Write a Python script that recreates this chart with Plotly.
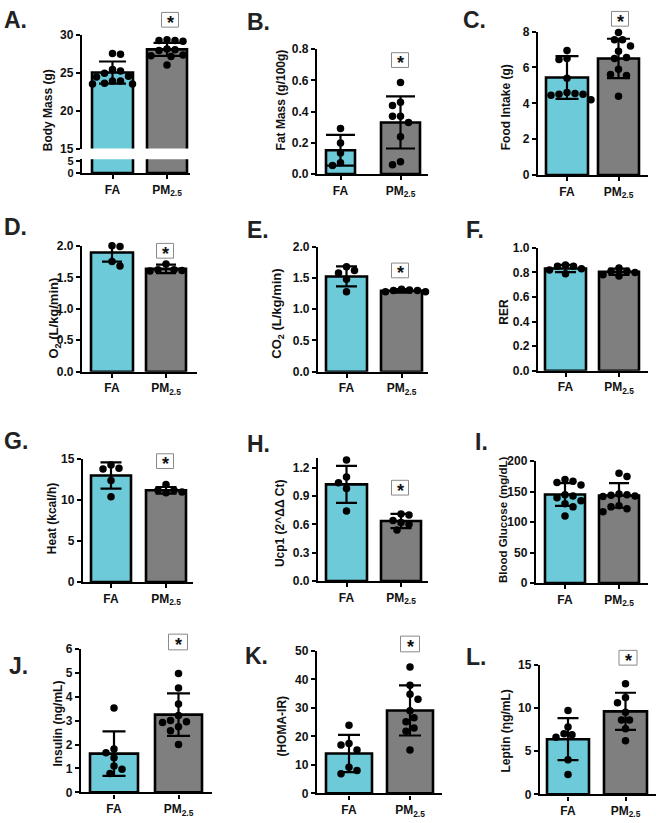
import numpy as np
import plotly.graph_objects as go

W, H = 656, 823
FONT = "Liberation Sans, Arial, Helvetica, sans-serif"

# ---------------- data ----------------
groups = ["FA", "PM<sub>2.5</sub>"]

body_mass_mean = [25.0, 28.05]
body_mass_sd = [1.45, 0.85]
body_mass_fa = [27.5, 27.4, 25.4, 25.2, 24.9, 24.5, 24.4, 23.9, 23.5, 23.5, 23.6, 23.9]
body_mass_pm = [29.2, 29.3, 29.2, 29.1, 28.1, 28.0, 27.9, 27.2, 27.1, 27.3, 26.0]

fat_mass_mean = [0.153, 0.331]
fat_mass_sd = [0.099, 0.167]
fat_mass_fa = [0.293, 0.199, 0.136, 0.073, 0.055]
fat_mass_pm = [0.587, 0.46, 0.44, 0.37, 0.37, 0.33, 0.24, 0.08, 0.06]

food_mean = [5.44, 6.50]
food_sd = [1.19, 1.10]
food_fa = [6.94, 6.5, 6.45, 5.4, 4.6, 4.5, 4.45, 4.5, 4.55, 4.2]
food_pm = [7.95, 7.55, 7.55, 7.2, 6.9, 6.55, 6.5, 5.9, 5.6, 5.55, 4.4]

o2_mean = [1.895, 1.634]
o2_sd = [0.145, 0.068]
o2_fa = [2.0, 1.99, 1.75, 1.68]
o2_pm = [1.71, 1.62, 1.61, 1.60, 1.62]

co2_mean = [1.526, 1.295]
co2_sd = [0.16, 0.03]
co2_fa = [1.68, 1.62, 1.58, 1.48, 1.28]
co2_pm = [1.32, 1.31, 1.30, 1.28, 1.28, 1.30]

rer_mean = [0.832, 0.805]
rer_sd = [0.03, 0.025]
rer_fa = [0.86, 0.85, 0.85, 0.83, 0.82, 0.79]
rer_pm = [0.835, 0.81, 0.81, 0.80, 0.78, 0.77]

heat_mean = [13.0, 11.2]
heat_sd = [1.6, 0.4]
heat_fa = [14.3, 13.8, 13.9, 12.4, 10.4]
heat_pm = [11.9, 11.2, 11.2, 10.9, 11.0]

ucp1_mean = [1.023, 0.635]
ucp1_sd = [0.195, 0.075]
ucp1_fa = [1.28, 1.10, 1.04, 0.98, 0.74]
ucp1_pm = [0.71, 0.70, 0.64, 0.62, 0.60, 0.54]

glucose_mean = [145.3, 143.7]
glucose_sd = [18.7, 20.2]
glucose_fa = [170, 167, 165, 161, 145, 143, 140, 135, 130, 125, 110]
glucose_pm = [180, 175, 146, 145, 144, 143, 142, 127, 125, 122, 117]

insulin_mean = [1.62, 3.25]
insulin_sd = [0.93, 0.89]
insulin_fa = [3.53, 1.81, 1.66, 1.45, 1.10, 0.97, 0.79]
insulin_pm = [4.97, 4.36, 3.70, 3.22, 3.01, 2.95, 2.92, 2.75, 2.58, 2.0]

homa_mean = [14.0, 29.1]
homa_sd = [6.55, 8.8]
homa_fa = [23.9, 17.5, 17.0, 15.2, 9.2, 8.0, 6.9]
homa_pm = [44.3, 37.9, 34.8, 33.0, 29.0, 26.5, 25.1, 22.9, 21.8, 15.2]

leptin_mean = [6.38, 9.6]
leptin_sd = [2.43, 2.15]
leptin_fa = [9.7, 7.8, 7.0, 6.9, 6.6, 4.0, 2.3]
leptin_pm = [12.8, 11.2, 10.6, 9.5, 8.6, 8.6, 7.6, 6.2]

panel_letters = ["A.", "B.", "C.", "D.", "E.", "F.", "G.", "H.", "I.", "J.", "K.", "L."]
y_titles = ["Body Mass (g)", "Fat Mass (g/100g)", "Food Intake (g)",
            "O<sub>2</sub> (L/kg/min)", "CO<sub>2</sub> (L/kg/min)", "RER",
            "Heat (kcal/h)", "Ucp1 (2^ΔΔ Ct)", "Blood Glucose (mg/dL)",
            "Insulin (ng/mL)", "(HOMA-IR)", "Leptin (ηg/mL)"]
significant = [True, True, True, True, True, False, True, True, False, True, True, True]

# ---------------- styling / geometry (pixels) ----------------
FA_COLOR = "#6DCAD8"
PM_COLOR = "#7F7F7F"

panels = [
    dict(mean=body_mass_mean, sd=body_mass_sd, pts=[body_mass_fa, body_mass_pm],
         rng=[15, 30], dtick=5, fmt="{:.0f}", broken=dict(ytop=155, ybot=169, top=5.83, ticks=[0, 5]),
         geo=dict(x0=82, x1=190, ytop=28, ybot=144, cfa=112.5, cpm=167, wfa=41, wpm=40, cap=13.5),
         letter=(2, 13), title=(48, 105, 12), star=(170, 13, 17, 15)),
    dict(mean=fat_mass_mean, sd=fat_mass_sd, pts=[fat_mass_fa, fat_mass_pm],
         rng=[0, 0.8], dtick=0.2, fmt="{:.1f}",
         geo=dict(x0=317, x1=428, ytop=43, ybot=170, cfa=340.5, cpm=400.5, wfa=29, wpm=39, cap=14.5),
         letter=(245, 15), title=(281, 95, 12), star=(400, 54, 17, 15)),
    dict(mean=food_mean, sd=food_sd, pts=[food_fa, food_pm],
         rng=[0, 8], dtick=2, fmt="{:.0f}",
         geo=dict(x0=538, x1=648, ytop=25, ybot=171, cfa=567, cpm=618.5, wfa=42, wpm=41, cap=11.5),
         letter=(461, 13), title=(506, 102, 12), star=(620, 12, 17, 15)),
    dict(mean=o2_mean, sd=o2_sd, pts=[o2_fa, o2_pm],
         rng=[0, 2.0], dtick=0.5, fmt="{:.1f}",
         geo=dict(x0=82, x1=197, ytop=243, ybot=371, cfa=112, cpm=166, wfa=42, wpm=40, cap=10),
         letter=(2, 224), title=(55, 317, 13), star=(165, 248, 17, 15)),
    dict(mean=co2_mean, sd=co2_sd, pts=[co2_fa, co2_pm],
         rng=[0, 2.0], dtick=0.5, fmt="{:.1f}",
         geo=dict(x0=318, x1=428, ytop=244, ybot=371, cfa=346.5, cpm=401.5, wfa=41, wpm=41, cap=10.5),
         letter=(245, 227), title=(278, 312, 13), star=(400, 268, 17, 15)),
    dict(mean=rer_mean, sd=rer_sd, pts=[rer_fa, rer_pm],
         rng=[0, 1.0], dtick=0.2, fmt="{:.1f}",
         geo=dict(x0=538, x1=648, ytop=245, ybot=370, cfa=565.5, cpm=619, wfa=41, wpm=40, cap=10.5),
         letter=(464, 227), title=(504, 310, 12), star=None),
    dict(mean=heat_mean, sd=heat_sd, pts=[heat_fa, heat_pm],
         rng=[0, 15], dtick=5, fmt="{:.0f}",
         geo=dict(x0=83, x1=193, ytop=460, ybot=585, cfa=111, cpm=166, wfa=40, wpm=40, cap=10.5),
         letter=(2, 442), title=(52, 521, 12), star=(165, 462, 17, 15)),
    dict(mean=ucp1_mean, sd=ucp1_sd, pts=[ucp1_fa, ucp1_pm],
         rng=[0, 1.3], dtick=0.3, fmt="{:.1f}",
         geo=dict(x0=318, x1=428, ytop=459, ybot=584, cfa=346.5, cpm=401, wfa=41, wpm=40, cap=10.5),
         letter=(245, 445), title=(280, 525, 12), star=(400, 489, 17, 15)),
    dict(mean=glucose_mean, sd=glucose_sd, pts=[glucose_fa, glucose_pm],
         rng=[0, 200], dtick=50, fmt="{:.0f}",
         geo=dict(x0=536, x1=648, ytop=462, ybot=586, cfa=565, cpm=619, wfa=40, wpm=40, cap=10),
         letter=(473, 443), title=(503, 522, 11.5), star=None),
    dict(mean=insulin_mean, sd=insulin_sd, pts=[insulin_fa, insulin_pm],
         rng=[0, 6], dtick=1, fmt="{:.0f}",
         geo=dict(x0=81, x1=212, ytop=653, ybot=799, cfa=114, cpm=178.5, wfa=48, wpm=47, cap=11.5),
         letter=(7, 670), title=(58, 729, 12), star=(178, 646, 19, 16)),
    dict(mean=homa_mean, sd=homa_sd, pts=[homa_fa, homa_pm],
         rng=[0, 50], dtick=10, fmt="{:.0f}",
         geo=dict(x0=317, x1=442, ytop=655, ybot=800, cfa=349, cpm=410, wfa=46, wpm=46, cap=11),
         letter=(243, 660), title=(282, 732, 12), star=(410, 648, 19, 16)),
    dict(mean=leptin_mean, sd=leptin_sd, pts=[leptin_fa, leptin_pm],
         rng=[0, 15], dtick=5, fmt="{:.0f}",
         geo=dict(x0=540, x1=656, ytop=669, ybot=801, cfa=568, cpm=625.5, wfa=42, wpm=43, cap=10.5),
         letter=(464, 661), title=(506, 737, 12), star=(628, 662, 18, 15)),
]


def swarm(vals, ppu_y, diam=8.0):
    """Deterministic beeswarm offsets (in px) so dots do not overlap."""
    v = np.asarray(vals, float)
    order = np.argsort(-v, kind="stable")
    placed = []
    offs = np.zeros(len(v))
    step = diam * 0.5
    for n, i in enumerate(order):
        ypx = v[i] * ppu_y
        chosen = 0.0
        for k in range(0, 60):
            if k == 0:
                cands = [0.0]
            else:
                cands = [-k * step, k * step] if n % 2 == 0 else [k * step, -k * step]
            hit = None
            for c in cands:
                if all((c - px) ** 2 + (ypx - py) ** 2 >= diam ** 2 for px, py in placed):
                    hit = c
                    break
            if hit is not None:
                chosen = hit
                break
        placed.append((chosen, ypx))
        offs[i] = chosen
    return offs


def tfont(size):
    return dict(family=FONT, size=size, color="#111")


def bold(s):
    return "<b>" + s + "</b>"


axis_common = dict(showline=True, linecolor="black", linewidth=2.4, ticks="outside",
                   tickcolor="black", tickwidth=2.2, showgrid=False, zeroline=False,
                   fixedrange=True, tickfont=tfont(12))

fig = go.Figure()
layout = dict(width=W, height=H, margin=dict(l=0, r=0, t=0, b=0),
              paper_bgcolor="white", plot_bgcolor="rgba(0,0,0,0)", showlegend=False,
              font=dict(family=FONT, color="#111"), hovermode=False)
shapes, annotations = [], []

for i, p in enumerate(panels):
    g = p["geo"]
    n = "" if i == 0 else str(i + 1)
    xa, ya = "x" + n, "y" + n
    unit = g["cpm"] - g["cfa"]
    xr = [(g["x0"] - g["cfa"]) / unit, (g["x1"] - g["cfa"]) / unit]
    layout["xaxis" + n] = dict(axis_common, domain=[g["x0"] / W, g["x1"] / W], range=xr,
                               anchor=ya, tickvals=[0, 1], ticktext=[bold(t) for t in groups],
                               ticklen=4)
    widths = [g["wfa"] / unit, g["wpm"] / unit]
    bar_style = dict(color=[FA_COLOR, PM_COLOR], line=dict(color="black", width=2.6))
    main_dom = [1 - g["ybot"] / H, 1 - g["ytop"] / H]
    lo, hi = p["rng"]
    nt = int(round((hi - lo) / p["dtick"] + 1e-9)) if (hi - lo) / p["dtick"] == int((hi - lo) / p["dtick"] + 1e-9) else int((hi - lo) / p["dtick"] + 1e-9)
    tv = [lo + k * p["dtick"] for k in range(nt + 1) if lo + k * p["dtick"] <= hi + 1e-9]
    ydict = dict(axis_common, domain=main_dom, range=p["rng"], tickvals=tv,
                 ticktext=[bold(p["fmt"].format(t)) for t in tv], ticklen=4, anchor=xa)
    if "broken" in p:
        b = p["broken"]
        layout["yaxis" + n] = dict(axis_common, domain=[1 - b["ybot"] / H, 1 - b["ytop"] / H],
                                   range=[0, b["top"]], tickvals=b["ticks"],
                                   ticktext=[bold(str(t)) for t in b["ticks"]], ticklen=4,
                                   anchor=xa, tickfont=tfont(11))
        fig.add_bar(x=[0, 1], y=p["mean"], width=widths, xaxis=xa, yaxis=ya, marker=bar_style)
        main_y = "y13"
        layout["yaxis13"] = ydict
    else:
        main_y = ya
        layout["yaxis" + n] = ydict
    fig.add_bar(x=[0, 1], y=p["mean"], width=widths, xaxis=xa, yaxis=main_y, marker=bar_style,
                error_y=dict(type="data", array=p["sd"], visible=True, color="black",
                             thickness=2.2, width=g["cap"]))
    ppu_y = (g["ybot"] - g["ytop"]) / (hi - lo)
    for gi in (0, 1):
        vals = p["pts"][gi]
        offs = swarm(vals, ppu_y)
        fig.add_scatter(x=gi + offs / unit, y=vals, mode="markers", xaxis=xa, yaxis=main_y,
                        marker=dict(color="black", size=7.5, line=dict(width=0)),
                        cliponaxis=False)

    lx, ly = p["letter"]
    annotations.append(dict(text=bold(panel_letters[i]), x=lx / W, y=1 - ly / H,
                            xref="paper", yref="paper", xanchor="left", yanchor="middle",
                            showarrow=False, font=dict(family=FONT, size=23, color="#222")))
    tx, ty, ts = p["title"]
    annotations.append(dict(text=bold(y_titles[i]), x=tx / W, y=1 - ty / H,
                            xref="paper", yref="paper", xanchor="center", yanchor="middle",
                            textangle=-90, showarrow=False,
                            font=dict(family=FONT, size=ts, color="#111")))
    if significant[i] and p["star"]:
        sx, sy, bw, bh = p["star"]
        shapes.append(dict(type="rect", xref="paper", yref="paper",
                           x0=(sx - bw / 2) / W, x1=(sx + bw / 2) / W,
                           y0=1 - (sy + bh / 2) / H, y1=1 - (sy - bh / 2) / H,
                           line=dict(color="#8a8a8a", width=1), fillcolor="white"))
        annotations.append(dict(text=bold("*"), x=sx / W, y=1 - (sy + 3) / H,
                                xref="paper", yref="paper", xanchor="center", yanchor="middle",
                                showarrow=False, font=dict(family=FONT, size=18, color="#111")))

layout["shapes"] = shapes
layout["annotations"] = annotations
fig.update_layout(**layout)
fig.write_html("out.html", config={"displayModeBar": False},
               post_script="document.body.style.margin='0';document.body.style.overflow='hidden';")
